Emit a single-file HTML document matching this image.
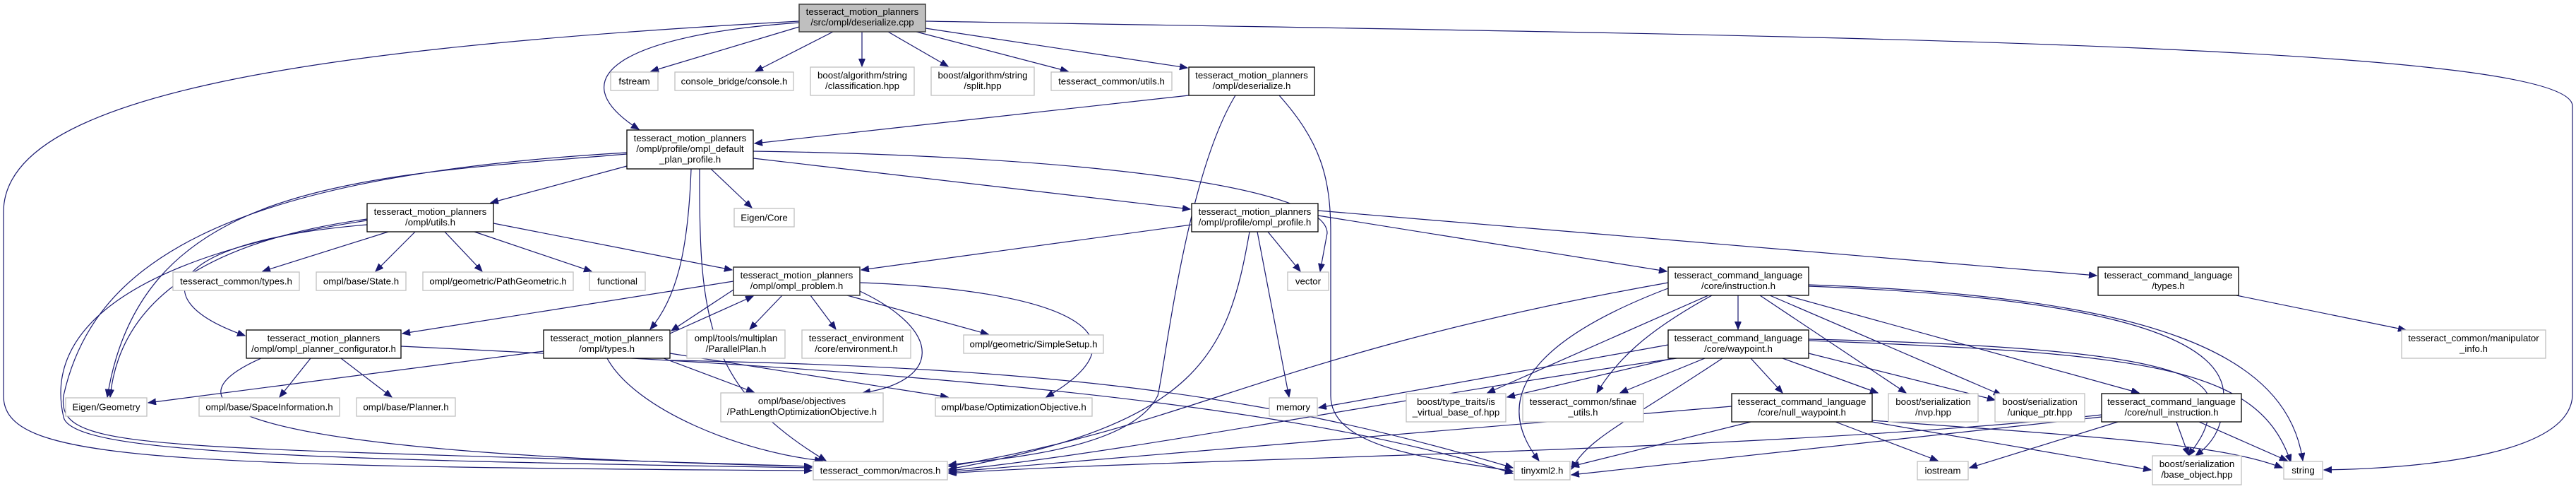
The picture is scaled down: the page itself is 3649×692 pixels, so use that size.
<!DOCTYPE html>
<html><head><meta charset="utf-8"><style>
html,body{margin:0;padding:0;background:#fff;}
svg{display:block;}
text{font-family:"Liberation Sans",Arial,sans-serif;font-size:13.3px;fill:#000;text-anchor:middle;}
.g{fill:#fff;stroke:#bfbfbf;stroke-width:1.3;}
.b{fill:#fff;stroke:#000;stroke-width:1.3;}
.r{fill:#bfbfbf;stroke:#404040;stroke-width:1.5;}
path{fill:none;stroke:#191970;stroke-width:1.2;marker-end:url(#a);}
</style></head><body>
<svg width="3649" height="692" viewBox="0 0 3649 692" xmlns="http://www.w3.org/2000/svg">
<defs><marker id="a" markerUnits="userSpaceOnUse" markerWidth="12" markerHeight="10" refX="11" refY="4.5" orient="auto"><polygon points="0,0 11,4.5 0,9" fill="#191970" stroke="#191970"/></marker></defs>
<g>
<path d="M1132,38 L922,101"/>
<path d="M1180,45 L1070,101"/>
<path d="M1221,45 L1221,94"/>
<path d="M1258,45 L1343,94"/>
<path d="M1298,45 L1513,101"/>
<path d="M1311,40 L1682,96"/>
<path d="M1132,32 C880,50 790,110 905,183"/>
<path d="M1132,30 C400,70 5,140 5,300 L5,560 C5,650 200,660 1150,666"/>
<path d="M1311,30 C2500,50 3644,60 3644,150 L3644,560 C3640,640 3450,662 3292,665"/>
<path d="M1684,135 L1069,203"/>
<path d="M1750,135 C1680,250 1650,520 1640,560 C1600,640 1400,650 1344,658"/>
<path d="M1812,135 C1870,200 1885,250 1885,330 L1885,560 C1885,640 2050,650 2143,667"/>
<path d="M888,235 L695,287"/>
<path d="M1007,239 L1065,294"/>
<path d="M1067,224 L1686,296"/>
<path d="M1067,214 C1500,220 1880,260 1880,330 L1870,384"/>
<path d="M888,218 C500,250 200,260 152,562"/>
<path d="M520,318 C250,340 190,420 347,475"/>
<path d="M888,216 C300,250 130,380 90,560 C80,640 200,630 1150,660"/>
<path d="M979,239 C975,350 960,420 921,466"/>
<path d="M991,239 C990,450 1000,550 1170,652"/>
<path d="M550,328 L372,384"/>
<path d="M588,328 L532,384"/>
<path d="M630,328 L683,384"/>
<path d="M672,328 L838,384"/>
<path d="M699,316 L1037,382"/>
<path d="M520,310 C300,340 170,420 156,562"/>
<path d="M520,312 C200,360 60,460 90,590 C100,640 400,650 1150,662"/>
<path d="M1688,318 L1220,382"/>
<path d="M1796,328 L1842,384"/>
<path d="M1781,328 L1826,562"/>
<path d="M1770,328 C1740,500 1700,600 1344,664"/>
<path d="M1867,305 L2361,384"/>
<path d="M1867,298 L2970,390"/>
<path d="M1039,398 L570,472"/>
<path d="M1039,410 L951,468"/>
<path d="M949,472 L1067,419"/>
<path d="M1108,418 L1062,466"/>
<path d="M1148,418 L1184,466"/>
<path d="M1200,418 L1400,473"/>
<path d="M1218,412 C1340,470 1330,540 1222,556"/>
<path d="M1218,400 C1500,410 1640,470 1482,562"/>
<path d="M770,497 L210,570"/>
<path d="M940,507 L1068,555"/>
<path d="M949,500 L1343,562"/>
<path d="M860,507 C900,580 1050,640 1165,652"/>
<path d="M949,510 C1500,520 1800,560 2143,662"/>
<path d="M568,490 C1200,520 1800,560 2143,670"/>
<path d="M440,507 L396,562"/>
<path d="M483,507 L555,562"/>
<path d="M370,507 C250,560 240,640 1150,660"/>
<path d="M2462,418 L2462,466"/>
<path d="M2420,418 L2107,556"/>
<path d="M2425,418 C2330,470 2290,510 2262,556"/>
<path d="M2493,418 L2700,556"/>
<path d="M2507,418 L2835,559"/>
<path d="M2530,418 L3030,556"/>
<path d="M2562,405 C2950,420 3150,470 3150,560 C3150,610 3130,630 3110,645"/>
<path d="M2562,403 C3050,420 3240,500 3262,652"/>
<path d="M2363,400 C1800,500 1700,600 1344,660"/>
<path d="M2363,408 C2200,470 2100,550 2180,652"/>
<path d="M2363,488 L1868,577"/>
<path d="M2480,507 L2525,556"/>
<path d="M2370,507 L2135,562"/>
<path d="M2415,507 L2295,556"/>
<path d="M2525,507 L2660,556"/>
<path d="M2562,500 L2826,566"/>
<path d="M2562,480 C3000,490 3130,520 3130,570 C3130,610 3110,630 3100,645"/>
<path d="M2562,482 C3050,500 3200,520 3245,654"/>
<path d="M2375,507 C2000,560 1600,640 1344,666"/>
<path d="M2440,507 C2300,600 2250,620 2226,664"/>
<path d="M2453,575 L1344,668"/>
<path d="M2480,597 L2226,660"/>
<path d="M2600,597 L2745,652"/>
<path d="M2652,597 L3047,665"/>
<path d="M2652,595 C3000,620 3150,630 3233,662"/>
<path d="M2977,587 C2500,640 1600,650 1344,670"/>
<path d="M2977,590 L2226,672"/>
<path d="M3000,597 L2790,662"/>
<path d="M3083,597 L3100,644"/>
<path d="M3115,597 L3240,652"/>
<path d="M3168,418 L3408,467"/>
</g>
<g>
<rect class="r" x="1132" y="6" width="179" height="39"/><text x="1221.5" y="21">tesseract_motion_planners</text><text x="1221.5" y="36">/src/ompl/deserialize.cpp</text>
<rect class="g" x="865" y="102" width="67" height="26"/><text x="898.5" y="119.5">fstream</text>
<rect class="g" x="956" y="102" width="168" height="26"/><text x="1040" y="119.5">console_bridge/console.h</text>
<rect class="g" x="1148" y="95" width="147" height="40"/><text x="1221.5" y="111">boost/algorithm/string</text><text x="1221.5" y="126">/classification.hpp</text>
<rect class="g" x="1319" y="95" width="146" height="40"/><text x="1392" y="111">boost/algorithm/string</text><text x="1392" y="126">/split.hpp</text>
<rect class="g" x="1489" y="102" width="171" height="26"/><text x="1574.5" y="119.5">tesseract_common/utils.h</text>
<rect class="b" x="1684" y="95" width="178" height="40"/><text x="1773" y="111">tesseract_motion_planners</text><text x="1773" y="126">/ompl/deserialize.h</text>
<rect class="b" x="888" y="184" width="179" height="55"/><text x="977.5" y="200">tesseract_motion_planners</text><text x="977.5" y="215">/ompl/profile/ompl_default</text><text x="977.5" y="230">_plan_profile.h</text>
<rect class="g" x="1040" y="295" width="85" height="26"/><text x="1082.5" y="312.5">Eigen/Core</text>
<rect class="b" x="520" y="288" width="179" height="40"/><text x="609.5" y="304">tesseract_motion_planners</text><text x="609.5" y="319">/ompl/utils.h</text>
<rect class="b" x="1688" y="288" width="179" height="40"/><text x="1777.5" y="304">tesseract_motion_planners</text><text x="1777.5" y="319">/ompl/profile/ompl_profile.h</text>
<rect class="g" x="245" y="385" width="179" height="26"/><text x="334.5" y="402.5">tesseract_common/types.h</text>
<rect class="g" x="448" y="385" width="127" height="26"/><text x="511.5" y="402.5">ompl/base/State.h</text>
<rect class="g" x="599" y="385" width="213" height="26"/><text x="705.5" y="402.5">ompl/geometric/PathGeometric.h</text>
<rect class="g" x="835" y="385" width="79" height="26"/><text x="874.5" y="402.5">functional</text>
<rect class="b" x="1039" y="378" width="179" height="40" style="stroke:#404040;stroke-width:1.6"/><text x="1128.5" y="394">tesseract_motion_planners</text><text x="1128.5" y="409">/ompl/ompl_problem.h</text>
<rect class="g" x="1824" y="385" width="58" height="26"/><text x="1853" y="402.5">vector</text>
<rect class="b" x="2363" y="378" width="199" height="40"/><text x="2462.5" y="394">tesseract_command_language</text><text x="2462.5" y="409">/core/instruction.h</text>
<rect class="b" x="2972" y="378" width="199" height="40"/><text x="3071.5" y="394">tesseract_command_language</text><text x="3071.5" y="409">/types.h</text>
<rect class="b" x="349" y="467" width="219" height="40"/><text x="458.5" y="483">tesseract_motion_planners</text><text x="458.5" y="498">/ompl/ompl_planner_configurator.h</text>
<rect class="b" x="770" y="467" width="179" height="40"/><text x="859.5" y="483">tesseract_motion_planners</text><text x="859.5" y="498">/ompl/types.h</text>
<rect class="g" x="973" y="467" width="139" height="40"/><text x="1042.5" y="483">ompl/tools/multiplan</text><text x="1042.5" y="498">/ParallelPlan.h</text>
<rect class="g" x="1136" y="467" width="154" height="40"/><text x="1213" y="483">tesseract_environment</text><text x="1213" y="498">/core/environment.h</text>
<rect class="g" x="1365" y="474" width="198" height="26"/><text x="1464" y="491.5">ompl/geometric/SimpleSetup.h</text>
<rect class="b" x="2363" y="467" width="199" height="40"/><text x="2462.5" y="483">tesseract_command_language</text><text x="2462.5" y="498">/core/waypoint.h</text>
<rect class="g" x="3402" y="467" width="204" height="40"/><text x="3504" y="483">tesseract_common/manipulator</text><text x="3504" y="498">_info.h</text>
<rect class="g" x="93" y="563" width="115" height="26"/><text x="150.5" y="580.5">Eigen/Geometry</text>
<rect class="g" x="282" y="563" width="199" height="26"/><text x="381.5" y="580.5">ompl/base/SpaceInformation.h</text>
<rect class="g" x="505" y="563" width="140" height="26"/><text x="575" y="580.5">ompl/base/Planner.h</text>
<rect class="g" x="1021" y="556" width="230" height="41"/><text x="1136" y="572">ompl/base/objectives</text><text x="1136" y="587">/PathLengthOptimizationObjective.h</text>
<rect class="g" x="1325" y="563" width="222" height="26"/><text x="1436" y="580.5">ompl/base/OptimizationObjective.h</text>
<rect class="g" x="1798" y="563" width="68" height="26"/><text x="1832" y="580.5">memory</text>
<rect class="g" x="1992" y="557" width="141" height="40"/><text x="2062.5" y="573">boost/type_traits/is</text><text x="2062.5" y="588">_virtual_base_of.hpp</text>
<rect class="g" x="2157" y="557" width="171" height="40"/><text x="2242.5" y="573">tesseract_common/sfinae</text><text x="2242.5" y="588">_utils.h</text>
<rect class="b" x="2453" y="557" width="199" height="40"/><text x="2552.5" y="573">tesseract_command_language</text><text x="2552.5" y="588">/core/null_waypoint.h</text>
<rect class="g" x="2675" y="557" width="127" height="40"/><text x="2738.5" y="573">boost/serialization</text><text x="2738.5" y="588">/nvp.hpp</text>
<rect class="g" x="2826" y="557" width="127" height="40"/><text x="2889.5" y="573">boost/serialization</text><text x="2889.5" y="588">/unique_ptr.hpp</text>
<rect class="b" x="2977" y="557" width="198" height="40"/><text x="3076" y="573">tesseract_command_language</text><text x="3076" y="588">/core/null_instruction.h</text>
<rect class="g" x="1152" y="653" width="190" height="26"/><text x="1247" y="670.5">tesseract_common/macros.h</text>
<rect class="g" x="2145" y="653" width="79" height="26"/><text x="2184.5" y="670.5">tinyxml2.h</text>
<rect class="g" x="2716" y="653" width="72" height="26"/><text x="2752" y="670.5">iostream</text>
<rect class="g" x="3049" y="645" width="126" height="41"/><text x="3112" y="661">boost/serialization</text><text x="3112" y="676">/base_object.hpp</text>
<rect class="g" x="3235" y="653" width="55" height="25"/><text x="3262.5" y="670">string</text>
</g>
</svg>
</body></html>
